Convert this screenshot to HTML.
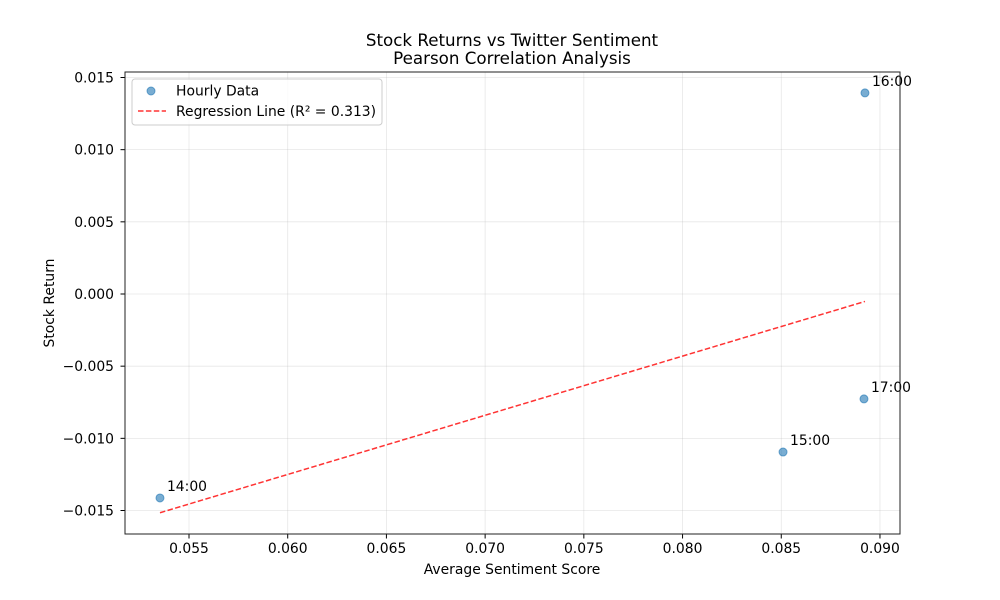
<!DOCTYPE html>
<html><head><meta charset="utf-8"><style>
html,body{margin:0;padding:0;background:#fff;}
svg{display:block;font-family:"DejaVu Sans","Liberation Sans",sans-serif;}
</style></head><body>
<svg id="chart" width="1000" height="600" viewBox="0 0 1000 600">
<rect x="0" y="0" width="1000" height="600" fill="#fff"/>
<text x="512" y="46" text-anchor="middle" font-size="16.7">Stock Returns vs Twitter Sentiment</text>
<text x="512" y="64" text-anchor="middle" font-size="16.7">Pearson Correlation Analysis</text>
<g id="grid"></g>
<g id="axes"></g>
<g id="marks"></g>
<rect x="125" y="72" width="775" height="462" fill="none" stroke="#222" stroke-width="1"/>
<text x="512" y="574" text-anchor="middle" font-size="13.9">Average Sentiment Score</text>
<text x="54" y="303" text-anchor="middle" font-size="13.9" transform="rotate(-90 54 303)">Stock Return</text>
<g>
<rect x="132" y="79" width="250" height="46" rx="3" fill="#fff" fill-opacity="0.8" stroke="#ccc"/>
<circle cx="151" cy="91" r="4" fill="#1f77b4" fill-opacity="0.6" stroke="#1f77b4" stroke-opacity="0.6"/>
<text x="176" y="95.5" font-size="13.9">Hourly Data</text>
<line x1="138" y1="111" x2="166" y2="111" stroke="red" stroke-opacity="0.8" stroke-width="1.5" stroke-dasharray="5.5,2.4"/>
<text id="regLabel" x="176" y="116" font-size="13.9">Regression Line (R² = 0.313)</text>
</g>
</svg>
<script>
const labels = ["14:00","15:00","16:00","17:00"];
const sentiment = [0.05353,0.08509,0.08924,0.08919];
const returns = [-0.01413,-0.01095,0.01393,-0.00727];
const xTicks = [0.055,0.060,0.065,0.070,0.075,0.080,0.085,0.090];
const yTicks = [-0.015,-0.010,-0.005,0.000,0.005,0.010,0.015];
const NS="http://www.w3.org/2000/svg";
function X(v){return 189+(v-0.055)/0.005*98.71;}
function Y(v){return 294-v/0.005*72.17;}
function mk(tag,attrs,parent){const e=document.createElementNS(NS,tag);for(const k in attrs)e.setAttribute(k,attrs[k]);document.getElementById(parent).appendChild(e);return e;}
function fmt(v){const s=Math.abs(v).toFixed(3);return (v<-1e-9?"\u2212":"")+s;}
xTicks.forEach(t=>{
 const x=X(t);
 const g=mk("line",{x1:x,x2:x,y1:72,y2:534,stroke:"#b0b0b0","stroke-opacity":0.3,"stroke-width":0.8},"grid");
 
 
 const tk=mk("line",{x1:x,x2:x,y1:534,y2:538.5,stroke:"#000"},"axes");
 
 
 const tx=mk("text",{x:x,y:553,"text-anchor":"middle","font-size":13.9},"axes");
 tx.textContent=t.toFixed(3);
 
 
});
yTicks.forEach(t=>{
 const y=Y(t);
 const g=mk("line",{x1:125,x2:900,y1:y,y2:y,stroke:"#b0b0b0","stroke-opacity":0.3,"stroke-width":0.8},"grid");
 
 
 const tk=mk("line",{x1:120.5,x2:125,y1:y,y2:y,stroke:"#000"},"axes");
 
 
 const tx=mk("text",{x:114,y:y+5,"text-anchor":"end","font-size":13.9},"axes");
 tx.textContent=fmt(t);
 
 
});
const n=sentiment.length;
const mx=sentiment.reduce((a,b)=>a+b,0)/n, my=returns.reduce((a,b)=>a+b,0)/n;
let sxy=0,sxx=0;
for(let i=0;i<n;i++){sxy+=(sentiment[i]-mx)*(returns[i]-my);sxx+=(sentiment[i]-mx)**2;}
const slope=sxy/sxx, icpt=my-slope*mx;
const x0=Math.min(...sentiment), x1=Math.max(...sentiment);
const reg=mk("line",{x1:X(x0),y1:Y(icpt+slope*x0),x2:X(x1),y2:Y(icpt+slope*x1),stroke:"red","stroke-opacity":0.8,"stroke-width":1.5,"stroke-dasharray":"5.5,2.4"},"marks");


for(let i=0;i<n;i++){
 const c=mk("circle",{cx:X(sentiment[i]),cy:Y(returns[i]),r:4,fill:"#1f77b4","fill-opacity":0.6,stroke:"#1f77b4","stroke-opacity":0.6},"marks");
 
 
 const t=mk("text",{x:X(sentiment[i])+7,y:Y(returns[i])-7,"font-size":13.9},"marks");
 t.textContent=labels[i];
 
 
}
</script>
</body></html>
